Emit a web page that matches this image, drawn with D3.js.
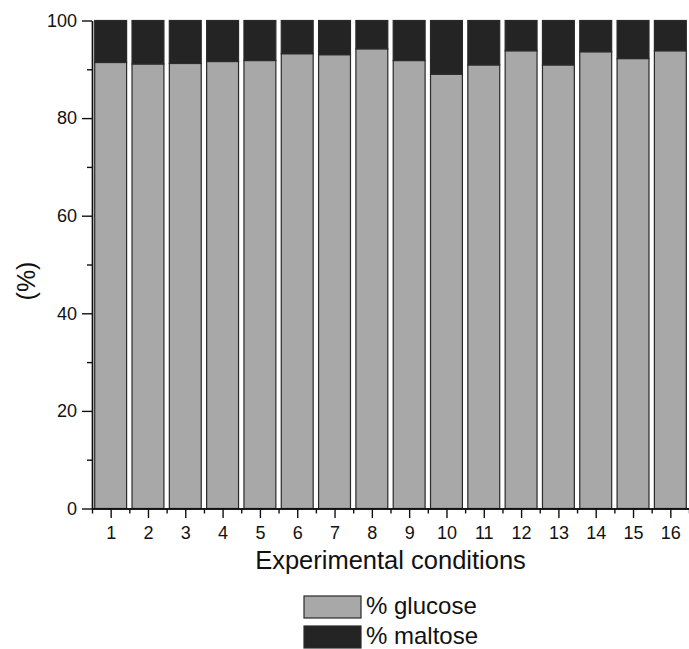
<!DOCTYPE html>
<html>
<head>
<meta charset="utf-8">
<script src="https://cdn.jsdelivr.net/npm/d3@7"></script>
<style>
  body { margin:0; background:#fff; }
  text { font-family: "Liberation Sans", Arial, sans-serif; fill:#111; }
  .axis path, .axis line { stroke:#111; stroke-width:1.4; }
  .axis text { font-size:18px; }
</style>
</head>
<body>
<svg id="chart"></svg>
<script>
// data
var conditions = [1,2,3,4,5,6,7,8,9,10,11,12,13,14,15,16];
var glucose = [91.4,91.1,91.2,91.6,91.8,93.2,93.0,94.2,91.8,89.0,90.9,93.8,90.9,93.6,92.2,93.8];
var maltose = glucose.map(g => 100 - g);
var seriesNames = ["% glucose", "% maltose"];
var seriesColors = ["#a8a8a8", "#242424"];
var yMajor = [0,20,40,60,80,100];
var yMinor = [10,30,50,70,90];

var screen = {width:689, height:649};
var margins = {top:20.5, left:92, right:0, bottom:140.5};
var graph = {
    width: screen.width - margins.left - margins.right,
    height: screen.height - margins.top - margins.bottom
};

var svg = d3.select("#chart")
    .attr("width", screen.width)
    .attr("height", screen.height);

var xScale = d3.scaleLinear()
    .domain([0.5, 16.5])
    .range([margins.left, margins.left + graph.width]);
var yScale = d3.scaleLinear()
    .domain([0, 100])
    .range([margins.top + graph.height, margins.top]);

var step = xScale(2) - xScale(1);
var barWidth = step * 0.855;

// stacked bars
var rows = conditions.map((c, i) => ({cond:c, glucose:glucose[i], maltose:maltose[i]}));
var stack = d3.stack().keys(["glucose", "maltose"])(rows);

svg.append("g").selectAll("g")
    .data(stack)
    .enter()
    .append("g")
    .attr("fill", (d, i) => seriesColors[i])
    .selectAll("rect")
    .data(d => d)
    .enter()
    .append("rect")
        .attr("x", d => xScale(d.data.cond) - barWidth/2)
        .attr("y", d => yScale(d[1]))
        .attr("width", barWidth)
        .attr("height", d => yScale(d[0]) - yScale(d[1]))
        .attr("stroke", "#2a2a2a")
        .attr("stroke-width", 1.2);

// axes
var xAxis = d3.axisBottom(xScale).tickValues(conditions).tickSize(9.5).tickPadding(8).tickSizeOuter(0);
var xMinor = d3.axisBottom(xScale).tickValues(conditions.map(c => c - 0.5).concat([16.5])).tickSize(5).tickFormat("").tickSizeOuter(0);
var yAxis = d3.axisLeft(yScale).tickValues(yMajor).tickSize(10).tickPadding(5).tickSizeOuter(0);
var yMinorAxis = d3.axisLeft(yScale).tickValues(yMinor).tickSize(5).tickFormat("").tickSizeOuter(0);

var bottomY = margins.top + graph.height;
svg.append("g").attr("class","axis").attr("transform","translate(0,"+bottomY+")").call(xMinor);
svg.append("g").attr("class","axis").attr("transform","translate(0,"+bottomY+")").call(xAxis);
svg.append("g").attr("class","axis").attr("transform","translate("+margins.left+",0)").call(yMinorAxis);
svg.append("g").attr("class","axis").attr("transform","translate("+margins.left+",0)").call(yAxis);

// labels
svg.append("text")
    .text("Experimental conditions")
    .attr("text-anchor","middle")
    .attr("x", margins.left + graph.width/2)
    .attr("y", 569)
    .style("font-size","25.5px");

svg.append("g")
    .attr("transform","translate(35,281)")
    .append("text")
    .text("(%)")
    .attr("text-anchor","middle")
    .attr("transform","rotate(-90)")
    .style("font-size","25px");

// legend
var legend = svg.append("g").selectAll("g")
    .data(seriesNames)
    .enter()
    .append("g")
    .attr("transform", (d, i) => "translate(304," + (596 + i*30) + ")");
legend.append("rect")
    .attr("width", 57)
    .attr("height", 22)
    .attr("fill", (d, i) => seriesColors[i])
    .attr("stroke", "#2a2a2a")
    .attr("stroke-width", 1.2);
legend.append("text")
    .text(d => d)
    .attr("x", 62)
    .attr("y", 18)
    .style("font-size","24px");
</script>
</body>
</html>
